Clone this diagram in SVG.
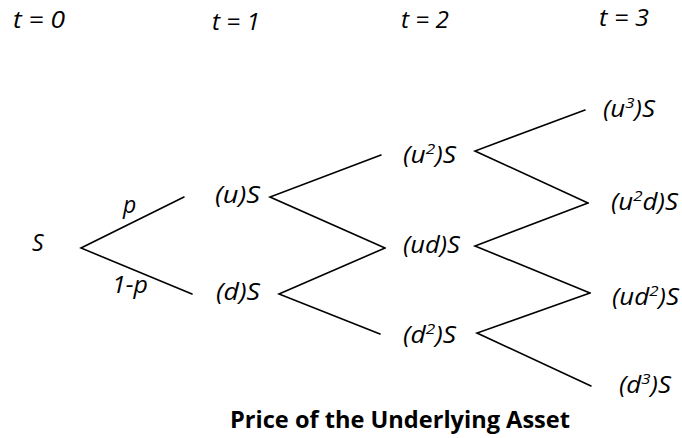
<svg xmlns="http://www.w3.org/2000/svg" width="682" height="438" viewBox="0 0 682 438">
<style>
.lbl{font-family:"Open Sans","Noto Sans",sans-serif;font-style:italic;font-size:23px;fill:#000}
.time{font-family:"Open Sans","Noto Sans",sans-serif;font-style:italic;font-size:24px;fill:#000}
.sup{font-size:15px}
.title{font-family:"Open Sans","Noto Sans",sans-serif;font-weight:bold;font-size:23px;fill:#000}
.edge{stroke:#000;stroke-width:1.6;fill:none;stroke-linecap:round;stroke-linejoin:miter}
</style>
<rect width="682" height="438" fill="#fff"/>
<g id="time-labels">
<text class="time" x="13" y="28" textLength="52" lengthAdjust="spacingAndGlyphs">t = 0</text>
<text class="time" x="212" y="30" textLength="48" lengthAdjust="spacingAndGlyphs">t = 1</text>
<text class="time" x="401" y="28" textLength="48" lengthAdjust="spacingAndGlyphs">t = 2</text>
<text class="time" x="599" y="26" textLength="50" lengthAdjust="spacingAndGlyphs">t = 3</text>
</g>
<g id="connectors">
<polyline class="edge" points="184,197 81,248 192,294"/>
<polyline class="edge" points="381,155 270,197 385,248"/>
<polyline class="edge" points="385,248 279,294 380,334"/>
<polyline class="edge" points="585,110 475,151 588,203"/>
<polyline class="edge" points="588,203 475,246 590,293"/>
<polyline class="edge" points="590,293 477,333 591,386"/>
<text class="lbl" x="123" y="213">p</text>
<text class="lbl" x="112" y="293" textLength="36" lengthAdjust="spacingAndGlyphs">1-p</text>
</g>
<g id="node-S"><text class="lbl" x="32" y="251">S</text></g>
<g id="node-uS"><text class="lbl" x="215" y="203" textLength="45" lengthAdjust="spacingAndGlyphs">(u)S</text></g>
<g id="node-dS"><text class="lbl" x="216" y="300" textLength="44" lengthAdjust="spacingAndGlyphs">(d)S</text></g>
<g id="node-u2S"><text class="lbl" x="403" y="163" textLength="53" lengthAdjust="spacingAndGlyphs">(u<tspan class="sup" dy="-9">2</tspan><tspan dy="9">)S</tspan></text></g>
<g id="node-udS"><text class="lbl" x="403" y="253" textLength="57" lengthAdjust="spacingAndGlyphs">(ud)S</text></g>
<g id="node-d2S"><text class="lbl" x="403" y="343" textLength="53" lengthAdjust="spacingAndGlyphs">(d<tspan class="sup" dy="-9">2</tspan><tspan dy="9">)S</tspan></text></g>
<g id="node-u3S"><text class="lbl" x="603" y="117" textLength="52" lengthAdjust="spacingAndGlyphs">(u<tspan class="sup" dy="-9">3</tspan><tspan dy="9">)S</tspan></text></g>
<g id="node-u2dS"><text class="lbl" x="611" y="210" textLength="67" lengthAdjust="spacingAndGlyphs">(u<tspan class="sup" dy="-9">2</tspan><tspan dy="9">d)S</tspan></text></g>
<g id="node-ud2S"><text class="lbl" x="612" y="305" textLength="67" lengthAdjust="spacingAndGlyphs">(ud<tspan class="sup" dy="-9">2</tspan><tspan dy="9">)S</tspan></text></g>
<g id="node-d3S"><text class="lbl" x="619" y="393" textLength="52" lengthAdjust="spacingAndGlyphs">(d<tspan class="sup" dy="-9">3</tspan><tspan dy="9">)S</tspan></text></g>
<g id="title"><text class="title" x="230" y="428" textLength="340" lengthAdjust="spacingAndGlyphs">Price of the Underlying Asset</text></g>
</svg>
